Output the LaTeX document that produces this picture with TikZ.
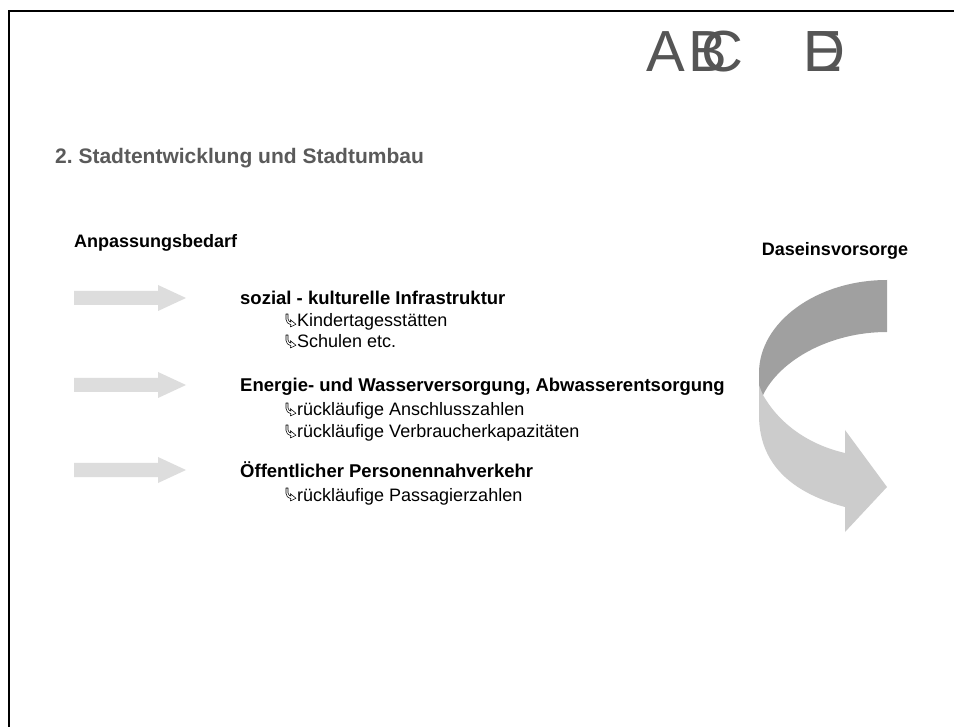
\documentclass[tikz,border=0pt]{standalone}
\usepackage{fontspec}
\setmainfont{Liberation Sans}
\definecolor{titlegray}{HTML}{5A5A5A}
\definecolor{logogray}{HTML}{555555}
\definecolor{blockgray}{HTML}{DDDDDD}
\definecolor{ribbondark}{HTML}{A0A0A0}
\definecolor{ribbonlight}{HTML}{CCCCCC}
\frenchspacing
\begin{document}
\begin{tikzpicture}[x=1pt,y=-1pt,
  txt/.style={anchor=base west,inner sep=0pt,font=\fontsize{18}{21}\selectfont},
  hd/.style={txt,font=\fontsize{18.5}{21}\selectfont\bfseries},
  logo/.style={anchor=base west,inner sep=0pt,text=logogray,font=\fontsize{58}{58}\selectfont},
  blockarrow/.style={fill=blockgray,draw=none},
  bulletglyph/.pic={
    \draw[line width=0.55pt,line join=round] (1,-13) -- (3,-13) -- (3,-8) .. controls (3,-6.5) and (4.5,-5.2) .. (6,-4.8)
      -- (5.3,-7.4) -- (11,-2.7) -- (5.3,0) -- (6,-2.2) .. controls (3,-3) and (1,-5) .. (1,-7.5) -- cycle;
  }]
\useasboundingbox (0,0) rectangle (954,727);
\fill[white] (0,0) rectangle (954,727);
% frame
\draw[line width=2pt] (9,727) -- (9,11) -- (954,11);
% logo
\node[logo] (lA) at (646,72) {A};
\node[logo] (lB) at (688,72) {B};
\node[logo] (lC) at (701,72) {C};
\node[logo] (lD) at (803,72) {D};
\node[logo] (lE) at (803,72) {E};
% title
\node[anchor=base west,inner sep=0pt,text=titlegray,font=\fontsize{21}{25}\selectfont\bfseries] (title) at (55,164) {2. Stadtentwicklung und Stadtumbau};
\node[txt,font=\fontsize{18}{21}\selectfont\bfseries] (anp) at (74,248) {Anpassungsbedarf};
\node[txt,font=\fontsize{18}{21}\selectfont\bfseries,anchor=base] (das) at (835,256) {Daseinsvorsorge};
% block arrows
\foreach \n/\y in {a1/298,a2/385,a3/470}{
  \fill[blockarrow] (74,\y-7) -- (158,\y-7) -- (158,\y-13) -- (186,\y) -- (158,\y+13) -- (158,\y+7) -- (74,\y+7) -- cycle;
}
% items
\node[hd] (h1) at (240,305) {sozial - kulturelle Infrastruktur};
\node[hd] (h2) at (240,392) {Energie- und Wasserversorgung, Abwasserentsorgung};
\node[hd] (h3) at (240,477) {Öffentlicher Personennahverkehr};
\foreach \n/\y/\t in {i11/327/Kindertagesstätten, i12/348/Schulen etc., i21/416/rückläufige Anschlusszahlen, i22/438/rückläufige Verbraucherkapazitäten, i31/501/rückläufige Passagierzahlen}{
  \pic at (285,\y) {bulletglyph};
  \node[txt] (\n) at (297,\y) {\t};
}
% ribbon arrow
\fill[ribbonlight] (759,380) -- (759,415) .. controls (759,470) and (800,495) .. (845,507)
  -- (845,532) -- (887,487) -- (845,430) -- (845,453)
  .. controls (810,445) and (780,425) .. (763,395) -- cycle;
\fill[ribbondark] (887,280) .. controls (817,280) and (759,322) .. (759,373)
  -- (759,385) -- (763,395) .. controls (780,360) and (830,332) .. (887,332) -- cycle;
\end{tikzpicture}
\end{document}
